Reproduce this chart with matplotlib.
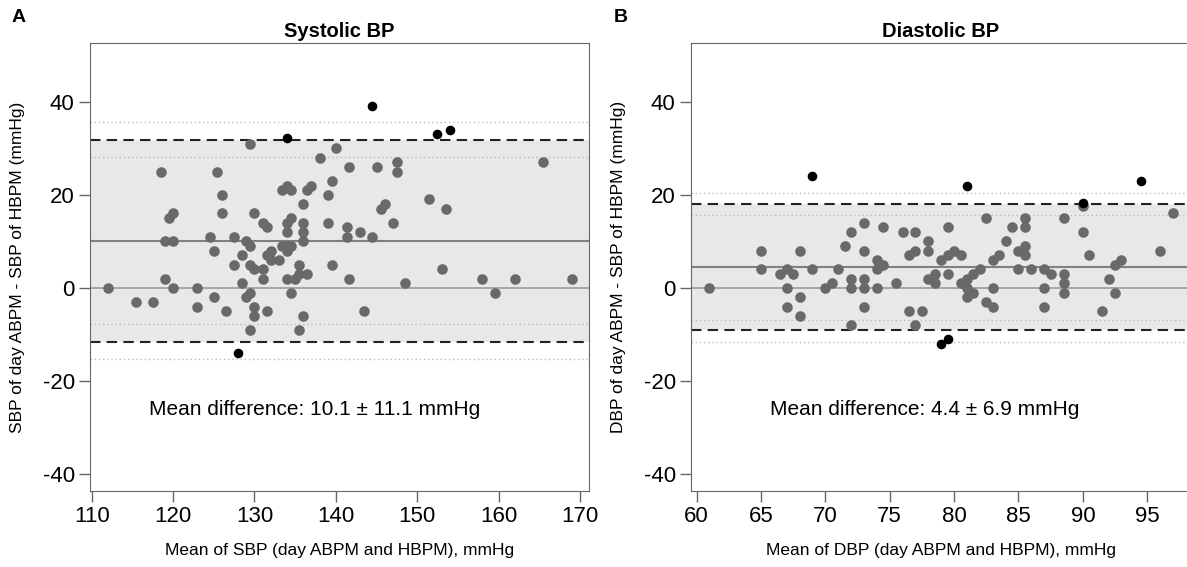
import matplotlib.pyplot as plt
import numpy as np

plt.rcParams['font.family'] = ['Liberation Sans', 'DejaVu Sans']
plt.rcParams['axes.unicode_minus'] = False

# panel A - systolic
sbp_mean = [118.5, 125.4, 129.5, 134, 138, 140, 141.6, 126, 139.5, 139,
            133.4, 134, 134.5, 136.5, 137, 136, 119.5, 120, 126, 130,
            131, 131.5, 134, 134.5, 134, 136, 136, 136, 139, 141.4,
            141.4, 119, 120, 124.5, 127.5, 129, 129.5, 125, 133.4, 134,
            134.5, 134, 132, 128.5, 131.5, 132, 133, 127.5, 129.5, 130,
            131, 135.5, 139.5, 119, 128.5, 131, 134, 135, 135.5, 136.5,
            141.6, 112, 120, 123, 115.5, 117.5, 123, 125, 126.5, 129,
            129.5, 129.5, 130, 130, 131.5, 134.5, 136, 135.5, 128, 144.5,
            152.4, 154, 145, 147.5, 147.5, 165.5, 151.5, 145.5, 146, 153.5,
            143, 144.5, 147, 153, 148.5, 158, 162, 169, 143.5, 159.5]
sbp_diff = [25, 25, 31, 32.2, 28, 30, 26, 20, 23, 20,
            21, 22, 21, 21, 22, 18, 15, 16, 16, 16,
            14, 13, 14, 15, 12, 14, 12, 10, 14, 13,
            11, 10, 10, 11, 11, 10, 9, 8, 9, 9,
            9, 8, 8, 7, 7, 6, 6, 5, 5, 4,
            4, 5, 5, 2, 1, 2, 2, 2, 3, 3,
            2, 0, 0, 0, -3, -3, -4, -2, -5, -2,
            -1, -9, -4, -6, -5, -1, -6, -9, -14, 39,
            33, 34, 26, 27, 25, 27, 19, 17, 18, 17,
            12, 11, 14, 4, 1, 2, 2, 2, -5, -1]
sbp_md, sbp_sd = 10.1, 11.1
sbp_ci = [35.6, 28.2, -7.8, -15.3]

# panel B - diastolic
dbp_mean = [61, 69, 65, 65, 66.5, 67, 67.5, 67, 67, 68,
            68, 68, 69, 70, 70.5, 71, 71.5, 72, 72, 72,
            72, 73, 73, 73, 73, 73, 74, 74.5, 74, 74,
            74.5, 75.5, 76, 76.5, 77, 76.5, 77.5, 77, 77, 78,
            78, 78, 78.5, 78.5, 79, 79.5, 80, 80.5, 79.5, 79.5,
            80.5, 81, 81.5, 82, 81, 81, 81.5, 79, 79.5, 81,
            82.5, 82.5, 83, 83, 83.5, 83, 84, 84.5, 85, 85.5,
            85.5, 85, 85.5, 85.5, 86, 87, 87.5, 87, 87, 88.5,
            88.5, 88.5, 88.5, 90, 90, 90, 90.5, 94.5, 92.5, 93,
            92, 92.5, 91.5, 96, 97]
dbp_diff = [0, 24, 8, 4, 3, 4, 3, 0, -4, 8,
            -2, -6, 4, 0, 1, 4, 9, 12, 2, 0,
            -8, 14, 8, 2, 0, -4, 6, 5, 4, 0,
            13, 1, 12, 7, 8, -5, -5, 12, -8, 10,
            8, 2, 3, 1, 6, 7, 8, 7, 13, 3,
            1, 2, 3, 4, 0, -2, -1, -12, -11, 22,
            15, -3, -4, 6, 7, 0, 10, 13, 8, 9,
            7, 4, 15, 13, 4, 4, 3, 0, -4, 15,
            3, 1, -1, 12, 18.3, 17.5, 7, 23, 5, 6,
            2, -1, -5, 8, 16]
dbp_md, dbp_sd = 4.4, 6.9
dbp_ci = [20.3, 15.7, -6.8, -11.5]

W, H = 1187, 567
fig = plt.figure(figsize=(W / 100, H / 100), dpi=100)
ax1 = fig.add_axes([90 / W, 1 - 491 / H, 499 / W, 448 / H])
ax2 = fig.add_axes([691 / W, 1 - 491 / H, 500 / W, 448 / H])


def bland_altman(ax, x, y, md, sd, ci, xlim, xticks, title, xlabel, ylabel, text_x):
    x = np.array(x)
    y = np.array(y)
    lo, hi = md - 1.96 * sd, md + 1.96 * sd
    ax.axhspan(lo, hi, color='#e8e8e8', lw=0, zorder=0)
    for c in ci:
        ax.axhline(c, color='#bbbbbb', lw=1, ls=(0, (1, 2)), zorder=1)
    ax.axhline(0, color='#a0a0a0', lw=1.3, zorder=1)
    ax.axhline(md, color='#808080', lw=1.5, zorder=1)
    ax.axhline(hi, color='#222222', lw=1.5, ls=(0, (5, 3)), zorder=2)
    ax.axhline(lo, color='#222222', lw=1.5, ls=(0, (5, 3)), zorder=2)
    out = (y > hi) | (y < lo)
    ax.scatter(x[~out], y[~out], s=58, color='#696969', lw=0, zorder=3)
    ax.scatter(x[out], y[out], s=48, color='black', lw=0, zorder=4)
    ax.text(text_x, -26, f'Mean difference: {md} \u00b1 {sd} mmHg',
            ha='center', va='center', fontsize=15)
    ax.set_xlim(xlim)
    ax.set_ylim(-43.6, 52.6)
    ax.set_xticks(xticks)
    ax.set_yticks([-40, -20, 0, 20, 40])
    ax.tick_params(labelsize=16, length=8, width=1, color='#666666', pad=3)
    for s in ax.spines.values():
        s.set_color('#666666')
    ax.set_title(title, fontsize=14.5, fontweight='bold', pad=4)
    ax.set_xlabel(xlabel, fontsize=12.5)
    ax.set_ylabel(ylabel, fontsize=12.5)
    ax.xaxis.set_label_coords(0.5, -0.115)
    ax.yaxis.set_label_coords(-0.13, 0.5)


bland_altman(ax1, sbp_mean, sbp_diff, sbp_md, sbp_sd, sbp_ci, (109.8, 171.1),
             range(110, 171, 10), 'Systolic BP',
             'Mean of SBP (day ABPM and HBPM), mmHg',
             'SBP of day ABPM - SBP of HBPM (mmHg)', 137.4)
bland_altman(ax2, dbp_mean, dbp_diff, dbp_md, dbp_sd, dbp_ci, (59.57, 98.4),
             range(60, 96, 5), 'Diastolic BP',
             'Mean of DBP (day ABPM and HBPM), mmHg',
             'DBP of day ABPM - SBP of HBPM (mmHg)', 77.7)

fig.text(12 / W, 1 - 18 / H, 'A', fontsize=14, fontweight='bold', va='center')
fig.text(614 / W, 1 - 18 / H, 'B', fontsize=14, fontweight='bold', va='center')

fig.savefig('out.png', dpi=100)
